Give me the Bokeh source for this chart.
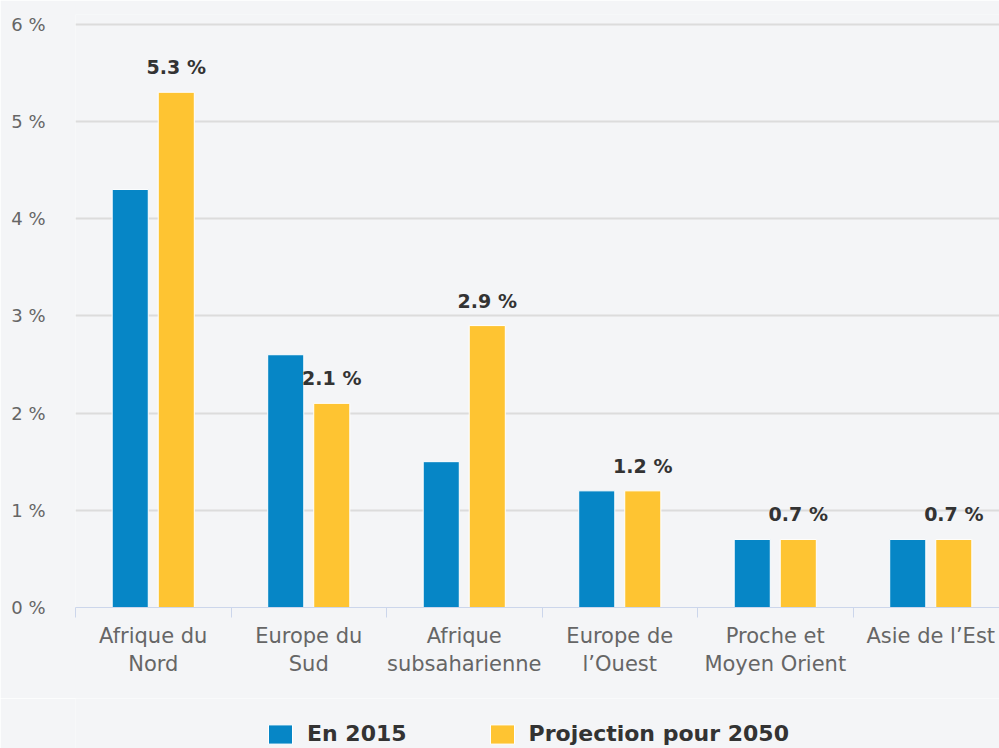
from bokeh.plotting import figure
from bokeh.layouts import column
from bokeh.models import ColumnDataSource, FixedTicker, Legend, LegendItem, Range1d
from bokeh.transform import dodge
from bokeh.embed import file_html
from bokeh.resources import INLINE
from bokeh.core.properties import value

# ---- data ----
categories = ["Afrique du Nord", "Europe du Sud", "Afrique subsaharienne",
              "Europe de l’Ouest", "Proche et Moyen Orient", "Asie de l’Est"]
category_labels = ["Afrique du\nNord", "Europe du\nSud", "Afrique\nsubsaharienne",
                   "Europe de\nl’Ouest", "Proche et\nMoyen Orient", "Asie de l’Est"]
values_2015 = [4.3, 2.6, 1.5, 1.2, 0.7, 0.7]
values_2050 = [5.3, 2.1, 2.9, 1.2, 0.7, 0.7]
series_names = ["En 2015", "Projection pour 2050"]
y_ticks = [0, 1, 2, 3, 4, 5, 6]
y_tick_labels = ["0 %", "1 %", "2 %", "3 %", "4 %", "5 %", "6 %"]

BLUE = "#0686c6"
YELLOW = "#fec432"
BG = "#f4f5f7"
FONT = "DejaVu Sans"

positions = [i + 0.5 for i in range(len(categories))]
source = ColumnDataSource(dict(
    x=positions,
    cat=categories,
    v2015=values_2015,
    v2050=values_2050,
    lbl2050=[f"{v} %" for v in values_2050],
))

p = figure(width=999, height=698, output_backend="svg", toolbar_location=None,
           x_range=Range1d(0, 5.942), y_range=Range1d(0, 6.1),
           min_border_left=75, min_border_right=0, min_border_top=14,
           min_border_bottom=91)
p.background_fill_color = BG
p.border_fill_color = BG
p.outline_line_color = None

r1 = p.vbar(x=dodge("x", -0.148), top="v2015", width=0.232, source=source,
            fill_color=BLUE, line_color="white", line_width=1)
r2 = p.vbar(x=dodge("x", 0.148), top="v2050", width=0.232, source=source,
            fill_color=YELLOW, line_color="white", line_width=1)

p.text(x=dodge("x", 0.148), y="v2050", text="lbl2050", source=source,
       text_align="center", text_baseline="middle", y_offset=-25,
       text_font=value(FONT), text_font_size="19px", text_font_style="bold",
       text_color="#333333")

# x axis
xa = p.xaxis[0]
xa.ticker = FixedTicker(ticks=positions, minor_ticks=list(range(len(categories) + 1)))
xa.major_label_overrides = {pos: lab for pos, lab in zip(positions, category_labels)}
xa.axis_line_color = "#ccd6eb"
xa.axis_line_width = 1
xa.major_tick_line_color = None
xa.major_tick_out = 0
xa.major_tick_in = 0
xa.minor_tick_line_color = "#ccd6eb"
xa.minor_tick_out = 10
xa.minor_tick_in = 0
xa.major_label_text_font = FONT
xa.major_label_text_font_size = "21px"
xa.major_label_text_color = "#666666"
xa.major_label_standoff = 6

# y axis
ya = p.yaxis[0]
ya.ticker = FixedTicker(ticks=y_ticks)
ya.major_label_overrides = {t: l for t, l in zip(y_ticks, y_tick_labels)}
ya.axis_line_color = None
ya.major_tick_line_color = None
ya.minor_tick_line_color = None
ya.major_tick_out = 0
ya.major_label_text_font = FONT
ya.major_label_text_font_size = "18px"
ya.major_label_text_color = "#666666"
ya.major_label_standoff = 30

p.xgrid.grid_line_color = None
p.ygrid.ticker = FixedTicker(ticks=y_ticks)
p.ygrid.grid_line_color = "#dcdcdc"
p.ygrid.grid_line_width = 2

# ---- legend strip (separate figure, same data, hidden glyphs) ----
lg = figure(width=999, height=50, output_backend="svg", toolbar_location=None,
            x_range=Range1d(0, 5.942), y_range=Range1d(10, 11),
            min_border_left=0, min_border_right=0, min_border_top=0,
            min_border_bottom=0)
lg.axis.visible = False
lg.grid.visible = False
lg.background_fill_color = BG
lg.border_fill_color = BG
lg.outline_line_color = None
l1 = lg.vbar(x="x", top="v2015", width=0.232, source=source,
             fill_color=BLUE, line_color="white", line_width=1, visible=False)
l2 = lg.vbar(x="x", top="v2050", width=0.232, source=source,
             fill_color=YELLOW, line_color="white", line_width=1, visible=False)

legend = Legend(items=[LegendItem(label=series_names[0], renderers=[l1]),
                       LegendItem(label=series_names[1], renderers=[l2])],
                orientation="horizontal", location=(190, 2),
                label_text_font=FONT, label_text_font_size="22px",
                label_text_font_style="bold", label_text_color="#333333",
                glyph_width=30, glyph_height=24, label_standoff=12, spacing=80,
                label_height=24,
                background_fill_alpha=0, border_line_color=None,
                margin=0, padding=0)
lg.add_layout(legend, "center")

layout = column(p, lg, spacing=0)
open("out.html", "w").write(file_html(layout, INLINE))
